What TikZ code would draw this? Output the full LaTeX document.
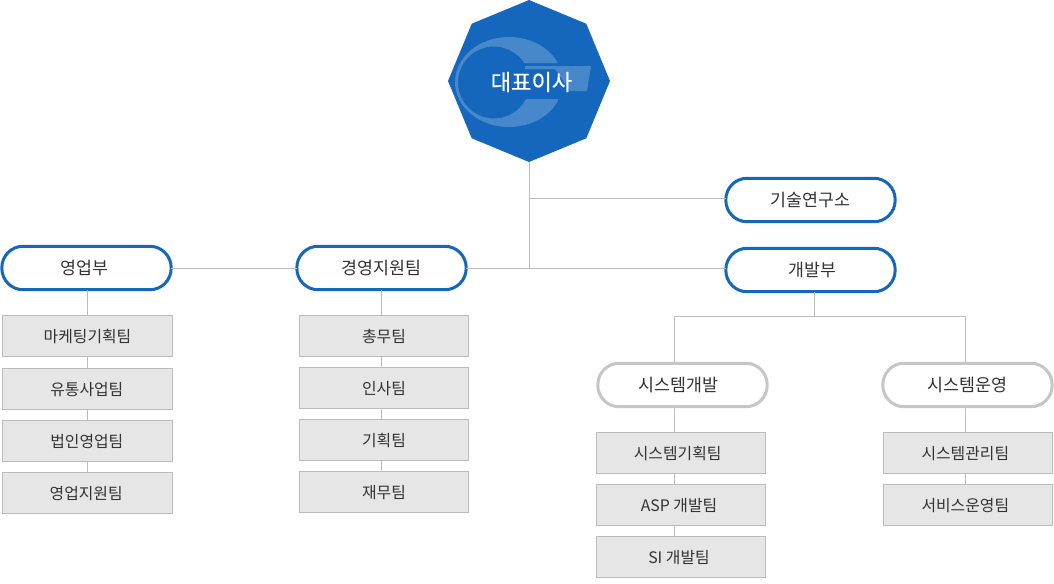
\documentclass[tikz,border=0pt]{standalone}
\usepackage{fontspec}
\setmainfont{Noto Sans CJK KR}
\newfontfamily\ceofont[FakeBold=0.6]{Noto Sans CJK KR}
\usepackage{xcolor}
\usetikzlibrary{shapes.geometric,positioning}
\definecolor{accent}{HTML}{1467BD}
\definecolor{soft}{HTML}{E6E6E6}
\definecolor{edge}{HTML}{BCBCBC}
\definecolor{ring}{HTML}{C6C6C6}
\definecolor{ink}{HTML}{333333}

\begin{document}
\begin{tikzpicture}[
    x=0.75pt,y=-0.75pt,
    node distance=8.25pt,
    ceobox/.style={regular polygon,regular polygon sides=8,shape border rotate=22.5,fill=accent,minimum size=121.5pt,inner sep=0pt,outer sep=0pt},
    pill/.style={draw,line width=2.25pt,rounded corners=16pt,fill=white,minimum width=127pt,minimum height=32.6pt,inner sep=0pt,outer sep=0pt,font=\fontsize{13}{15}\selectfont,text=ink},
    mainpill/.style={pill,draw=accent},
    subpill/.style={pill,draw=ring},
    team/.style={draw=edge,fill=soft,line width=0.75pt,minimum width=127pt,minimum height=30.75pt,inner sep=0pt,outer sep=0pt,text height=10pt,text depth=0pt,font=\fontsize{11.9}{14}\selectfont,text=ink},
    nudge/.style={execute at end node={\kern#1}},
    link/.style={draw=edge,line width=0.75pt}
  ]
    \useasboundingbox (0,0) rectangle (1054,583);
    \node[ceobox] (ceo) at (529,81) {};
    % logo
    \begin{scope}
      \clip (440,20) -- (558,20) -- (558,63) -- (520,63) -- (520,99) -- (558,99) -- (558,140) -- (440,140) -- cycle;
      \fill[white,opacity=0.22,even odd rule] (509,82) ellipse (54 and 45) (494,82.5) ellipse (36 and 36);
    \end{scope}
    \fill[white,opacity=0.22] (525,66) -- (591,66) -- (587,91) -- (570,91) -- (555,69) -- (525,69) -- cycle;
    \node[text=white,font=\fontsize{16.6}{20}\selectfont\ceofont] (ceotext) at (531.5,82) {대표이사};

    \node[mainpill] (rnd) at (810.5,200) {기술연구소};
    \node[mainpill,nudge=-3pt] (dev) at (810.5,270) {개발부};
    \node[mainpill,nudge=3.5pt] (sales) at (86.5,268) {영업부};
    \node[mainpill] (mgmt) at (381.5,268) {경영지원팀};
    \node[subpill,nudge=6.5pt] (sysdev) at (682.5,385) {시스템개발};
    \node[subpill] (sysop) at (967.5,385) {시스템운영};

    \node[team] (plan) at (87.5,336) {마케팅기획팀};
    \node[team,below=of plan,yshift=-0.4pt,nudge=1pt] (dist) {유통사업팀};
    \node[team,below=of dist,nudge=1pt] (corp) {법인영업팀};
    \node[team,below=of corp,nudge=2pt] (supp) {영업지원팀};

    \node[team] (gen) at (384,336) {총무팀};
    \node[team,below=of gen] (hr) {인사팀};
    \node[team,below=of hr] (strat) {기획팀};
    \node[team,below=of strat] (fin) {재무팀};

    \node[team,nudge=5pt] (syspl) at (681,453) {시스템기획팀};
    \node[team,below=of syspl,nudge=3pt] (asp) {ASP 개발팀};
    \node[team,below=of asp,nudge=3pt] (si) {SI 개발팀};

    \node[team,nudge=4pt] (sysadm) at (968,453) {시스템관리팀};
    \node[team,below=of sysadm,nudge=4pt] (svc) {서비스운영팀};

    \coordinate (rndjoin) at (529,198);
    \coordinate (mainjoin) at (529,268);
    \coordinate (devjoin) at (814,316);
    \coordinate (leftjoin) at (674,316);
    \coordinate (rightjoin) at (965,316);

    \draw[link] (ceo.south) -- (mainjoin);
    \draw[link] (rndjoin) -- (rndjoin -| rnd.west);
    \draw[link] (sales.east) -- (mgmt.west);
    \draw[link] (mgmt.east) -- (mgmt.east -| dev.west);
    \draw[link] (devjoin |- dev.south) -- (devjoin);
    \draw[link] (leftjoin) -- (rightjoin);
    \draw[link] (leftjoin) -- (leftjoin |- sysdev.north);
    \draw[link] (rightjoin) -- (rightjoin |- sysop.north);

    \draw[link] (plan.north) -- (plan.north |- sales.south);
    \draw[link] (plan) -- (dist);
    \draw[link] (dist) -- (corp);
    \draw[link] (corp) -- (supp);

    \draw[link] (mgmt.south) -- (mgmt.south |- gen.north);
    \draw[link] (mgmt.south |- gen.south) -- (mgmt.south |- hr.north);
    \draw[link] (mgmt.south |- hr.south) -- (mgmt.south |- strat.north);
    \draw[link] (mgmt.south |- strat.south) -- (mgmt.south |- fin.north);

    \draw[link] (leftjoin |- sysdev.south) -- (leftjoin |- syspl.north);
    \draw[link] (leftjoin |- syspl.south) -- (leftjoin |- asp.north);
    \draw[link] (leftjoin |- asp.south) -- (leftjoin |- si.north);

    \draw[link] (rightjoin |- sysop.south) -- (rightjoin |- sysadm.north);
    \draw[link] (rightjoin |- sysadm.south) -- (rightjoin |- svc.north);
  \end{tikzpicture}
\end{document}
